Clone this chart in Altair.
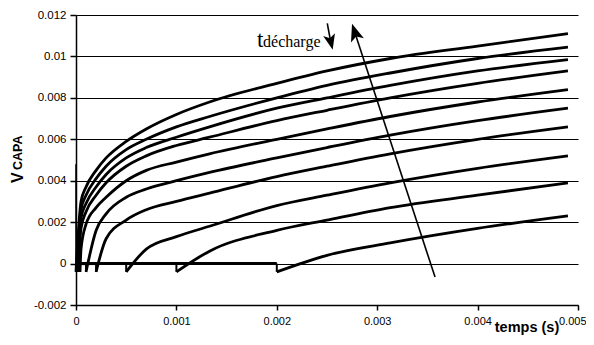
import altair as alt
import pandas as pd

# ---------------- data ----------------
x_ticks = [0, 0.001, 0.002, 0.003, 0.004, 0.005]
y_ticks = [-0.002, 0, 0.002, 0.004, 0.006, 0.008, 0.010, 0.012]

# discharge times (start of each recovery curve), top curve first
t_start = [0.0, 0.000005, 0.00001, 0.00002, 0.00004, 0.0001, 0.0002, 0.0005, 0.001, 0.002]
dip = -0.0004          # small negative glitch at each start
spike_top = 0.0048     # vertical spike at t = 0

t_samples = [0.00005, 0.0001, 0.0002, 0.0003, 0.0005, 0.0007, 0.001, 0.00133,
             0.002, 0.0025, 0.00313, 0.004, 0.0049]

c1 = [0.0030, 0.0037, 0.0045, 0.0051, 0.0059, 0.0065, 0.0072, 0.0078, 0.0087, 0.0093, 0.0099, 0.0105, 0.0111]
c2 = [0.0026, 0.0033, 0.0041, 0.0047, 0.0055, 0.0060, 0.0066, 0.0071, 0.0080, 0.0086, 0.0092, 0.0099, 0.01045]
c3 = [0.0022, 0.0029, 0.0037, 0.0043, 0.0051, 0.0056, 0.0061, 0.0066, 0.0075, 0.0080, 0.0086, 0.0093, 0.00985]
c4 = [0.0017, 0.0025, 0.0033, 0.0039, 0.0047, 0.0052, 0.0057, 0.0061, 0.0069, 0.0074, 0.0080, 0.0087, 0.0093]
c5 = [0.0007, 0.0019, 0.0027, 0.0032, 0.0040, 0.0045, 0.0049, 0.0053, 0.0060, 0.0065, 0.0071, 0.0078, 0.0084]
c6 = [None, None, 0.0016, 0.0024, 0.0032, 0.0036, 0.0040, 0.0044, 0.0051, 0.0056, 0.0062, 0.0069, 0.0075]
c7 = [None, None, None, 0.0012, 0.0021, 0.0026, 0.0030, 0.0034, 0.0042, 0.0047, 0.0053, 0.0060, 0.0066]
c8 = [None, None, None, None, None, 0.0007, 0.0013, 0.0018, 0.0028, 0.0033, 0.0039, 0.0046, 0.0052]
c9 = [None, None, None, None, None, None, None, 0.0006, 0.0016, 0.0021, 0.0027, 0.0033, 0.0039]
c10 = [None, None, None, None, None, None, None, None, None, 0.0004, 0.0010, 0.0017, 0.0023]
curves = [c1, c2, c3, c4, c5, c6, c7, c8, c9, c10]

# annotation arrows (data coordinates)
arrow_t = [0.003576, 0.002783]          # long arrow: bottom -> head
arrow_v = [-0.00065, 0.011075]
small_arrow_t = [0.002503, 0.002534]    # small arrow: top -> head
small_arrow_v = [0.01160, 0.01078]
label_t = [0.001803, 0.001863]
label_v = [0.01047, 0.01047]
label_txt = ["t", "décharge"]

# ---------------- tables ----------------
rows = []
for k, (td, vals) in enumerate(zip(t_start, curves)):
    name = f"c{k+1}"
    rows.append(dict(curve=name, t=td, v=dip))
    for t, v in zip(t_samples, vals):
        if v is not None:
            rows.append(dict(curve=name, t=t, v=v))
df_curves = pd.DataFrame(rows)

df_flat = pd.DataFrame({"t": [0.0] * len(t_start), "t2": t_start, "v": [0.0] * len(t_start)})
df_dips = pd.DataFrame({"t": t_start, "v": [0.0] * len(t_start), "v2": [dip] * len(t_start)})
df_spike = pd.DataFrame({"t": [0.0], "v": [dip * 0.5], "v2": [spike_top]})

df_arrows = pd.DataFrame({
    "t": [arrow_t[0], small_arrow_t[0]], "t2": [arrow_t[1], small_arrow_t[1]],
    "v": [arrow_v[0], small_arrow_v[0]], "v2": [arrow_v[1], small_arrow_v[1]],
})
df_heads = pd.DataFrame({
    "t": [arrow_t[1], small_arrow_t[1]], "v": [arrow_v[1], small_arrow_v[1]],
    "ang": [342, 166.5], "sz": [480, 380],
})
df_label = pd.DataFrame({"t": label_t, "v": label_v, "txt": label_txt, "fs": [23, 16]})

# ---------------- scales & axes ----------------
xs = alt.Scale(domain=[0, 0.005], nice=False, zero=False)
ys = alt.Scale(domain=[-0.002, 0.012], nice=False, zero=False)

x_axis = alt.Axis(values=x_ticks, format="~g", grid=False, title=None, labelFlush=False,
                  labelAlign={"condition": {"test": "datum.value > 0.0045", "value": "right"},
                              "value": "center"},
                  labelOffset={"condition": {"test": "datum.value > 0.0045", "value": 8},
                               "value": 0},
                  domainColor="black", domainWidth=1.5, tickColor="black", tickWidth=1.5,
                  tickSize=5, labelPadding=5, labelFont="Liberation Sans", labelFontSize=11,
                  labelColor="black")
y_axis = alt.Axis(values=y_ticks, grid=True, gridColor="black", gridWidth=1.2, gridOpacity=1,
                  title=None, labelFlush=False, domainColor="black", domainWidth=1.5,
                  tickColor="black", tickWidth=1.5, tickSize=6, labelPadding=4,
                  labelFont="Liberation Sans", labelFontSize=11.5, labelColor="black",
                  labelExpr="datum.value < 0 ? '-' + format(-datum.value, '~g') : format(datum.value, '~g')")

base_axes = alt.Chart(df_curves).mark_line(opacity=0).encode(
    x=alt.X("t:Q", scale=xs, axis=x_axis),
    y=alt.Y("v:Q", scale=ys, axis=y_axis),
    detail="curve:N",
)

lines = alt.Chart(df_curves).mark_line(color="black", strokeWidth=2.8, interpolate="monotone",
                                       strokeJoin="round").encode(
    x=alt.X("t:Q", scale=xs),
    y=alt.Y("v:Q", scale=ys),
    detail="curve:N",
)

flat = alt.Chart(df_flat).mark_rule(color="black", strokeWidth=3).encode(
    x=alt.X("t:Q", scale=xs), x2="t2:Q", y=alt.Y("v:Q", scale=ys))

dips = alt.Chart(df_dips).mark_rule(color="black", strokeWidth=2).encode(
    x=alt.X("t:Q", scale=xs), y=alt.Y("v:Q", scale=ys), y2="v2:Q")

spike = alt.Chart(df_spike).mark_rule(color="black", strokeWidth=1.5).encode(
    x=alt.X("t:Q", scale=xs), y=alt.Y("v:Q", scale=ys), y2="v2:Q")

arrows = alt.Chart(df_arrows).mark_rule(color="black", strokeWidth=1.6).encode(
    x=alt.X("t:Q", scale=xs), x2="t2:Q", y=alt.Y("v:Q", scale=ys), y2="v2:Q")

heads = alt.Chart(df_heads).mark_point(
    shape="M0,-1L0.62,0.6L0,0.22L-0.62,0.6Z", filled=True, color="black", opacity=1,
    strokeWidth=0).encode(
    x=alt.X("t:Q", scale=xs), y=alt.Y("v:Q", scale=ys),
    angle=alt.Angle("ang:Q", scale=None), size=alt.Size("sz:Q", scale=None, legend=None))

label = alt.Chart(df_label).mark_text(font="Liberation Serif", align="left", baseline="alphabetic",
                                      color="black").encode(
    x=alt.X("t:Q", scale=xs), y=alt.Y("v:Q", scale=ys), text="txt:N",
    size=alt.Size("fs:Q", scale=None, legend=None))

ytitle_v = alt.Chart(pd.DataFrame({"s": ["V"]})).mark_text(
    font="Liberation Sans", fontWeight="bold", fontSize=16, angle=270, align="left",
    baseline="alphabetic", color="black").encode(
    x=alt.value(-53), y=alt.value(168), text="s:N")
ytitle_sub = alt.Chart(pd.DataFrame({"s": ["CAPA"]})).mark_text(
    font="Liberation Sans", fontWeight="bold", fontSize=12.5, angle=270, align="left",
    baseline="alphabetic", color="black").encode(
    x=alt.value(-54), y=alt.value(155), text="s:N")
xtitle = alt.Chart(pd.DataFrame({"s": ["temps (s)"]})).mark_text(
    font="Liberation Sans", fontWeight="bold", fontSize=14.5, align="center",
    baseline="alphabetic", color="black").encode(
    x=alt.value(451), y=alt.value(317), text="s:N")

chart = alt.layer(base_axes, flat, dips, spike, lines, arrows, heads, label,
                  ytitle_v, ytitle_sub, xtitle).properties(
    width=502, height=290,
    autosize=alt.AutoSizeParams(type="none"),
    padding={"left": 68, "top": 7, "right": 8, "bottom": 32},
    background="white",
).configure_view(stroke=None)

chart.save("out.html", embed_options={"renderer": "svg", "actions": False})
